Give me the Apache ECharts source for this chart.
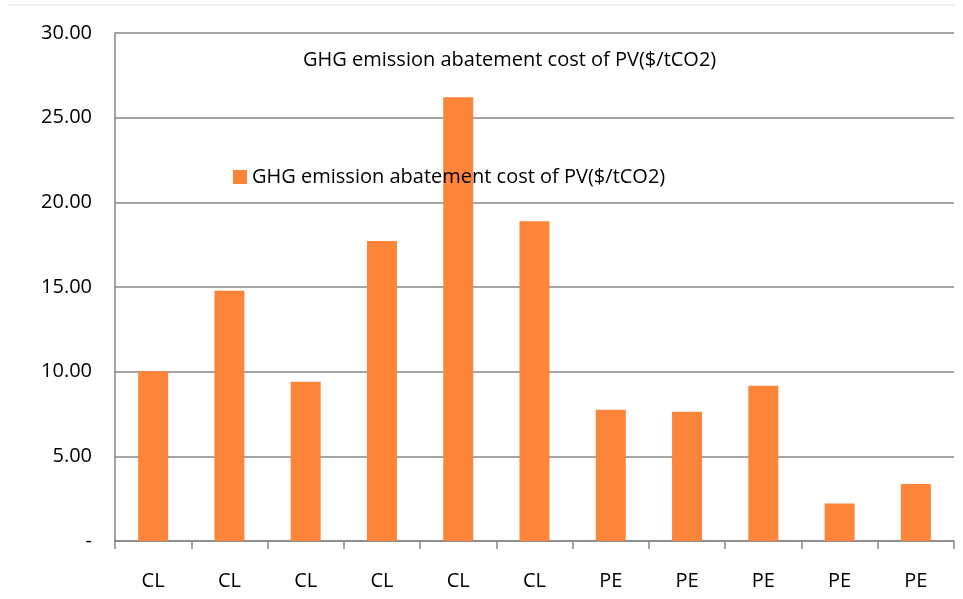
<!DOCTYPE html>
<html>
<head>
<meta charset="utf-8">
<script src="https://cdn.jsdelivr.net/npm/echarts@6/dist/echarts.min.js"></script>
<style>html,body{margin:0;padding:0;background:#fff}#c{width:963px;height:599px}</style>
</head>
<body>
<div id="c"></div>
<script>
const categories = ['CL','CL','CL','CL','CL','CL','PE','PE','PE','PE','PE'];
const values = [10.03, 14.78, 9.40, 17.72, 26.20, 18.88, 7.75, 7.63, 9.17, 2.22, 3.37];
const seriesName = 'GHG emission abatement cost of PV($/tCO2)';
const yTicks = [0, 5, 10, 15, 20, 25, 30];

const FONT = 'Open Sans';
const chart = echarts.init(document.getElementById('c'), null, {renderer: 'canvas'});
chart.setOption({
  animation: false,
  backgroundColor: '#fff',
  title: {
    text: seriesName,
    left: 298, top: 45,
    textStyle: {fontFamily: FONT, fontSize: 20, fontWeight: 'normal', color: '#000'}
  },
  legend: {
    left: 228, top: 162,
    itemWidth: 14, itemHeight: 14, itemGap: 8,
    icon: 'rect',
    textStyle: {fontFamily: FONT, fontSize: 20, color: '#000'},
    data: [seriesName]
  },
  graphic: [{
    type: 'line', shape: {x1: 8, y1: 5, x2: 955, y2: 5},
    style: {stroke: '#e3e3e3', lineWidth: 1}
  }],
  grid: {left: 115, right: 9, top: 33, bottom: 58, containLabel: false},
  xAxis: {
    type: 'category',
    data: categories,
    boundaryGap: true,
    axisLine: {show: true, lineStyle: {color: '#868686', width: 1.5}},
    axisTick: {show: true, alignWithLabel: false, length: 8, lineStyle: {color: '#868686', width: 1.5}},
    axisLabel: {fontFamily: FONT, fontSize: 20, color: '#000', margin: 30, interval: 0}
  },
  yAxis: {
    type: 'value',
    min: 0, max: 30, interval: 5,
    axisLine: {show: true, lineStyle: {color: '#868686', width: 1.5}},
    axisTick: {show: false},
    splitLine: {show: true, lineStyle: {color: '#868686', width: 1.5}},
    axisLabel: {
      fontFamily: FONT, fontSize: 20, color: '#000', margin: 23,
      formatter: function (v) { return yTicks.indexOf(v) >= 0 && v === 0 ? '-' : v.toFixed(2); }
    }
  },
  series: [{
    name: seriesName,
    type: 'bar',
    data: values,
    barWidth: 30,
    itemStyle: {color: '#FD8539'}
  }]
});
</script>
</body>
</html>
